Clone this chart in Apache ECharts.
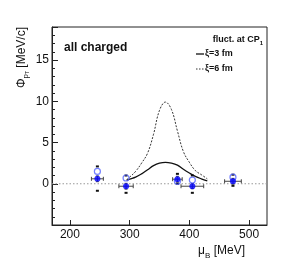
<!DOCTYPE html>
<html>
<head>
<meta charset="utf-8">
<script src="https://cdn.jsdelivr.net/npm/echarts@6/dist/echarts.min.js"></script>
<style>
html,body{margin:0;padding:0;background:#fff;}
#c{width:291px;height:275px;}
</style>
</head>
<body>
<div id="c"></div>
<script>
// ---- data ----
var xTicks = [200, 300, 400, 500];
var yTicks = [0, 5, 10, 15];
var mu = [246, 294, 380, 405, 473];
var filledY = [0.6, -0.3, 0.55, -0.3, 0.3];
var filledErrX = [10, 12, 8, 19, 14];
var filledErrY = [0.35, 0.35, 0.35, 0.3, 0.35];
var openY = [1.5, 0.7, 0.3, 0.45, 0.8];
var sysHi = [2.1, 1.0, 1.2, 1.0, 1.1];
var sysLo = [-0.85, -1.1, 0.0, -1.1, -0.25];
var curveX = [295, 300, 310, 320, 330, 340, 350, 360, 370, 380, 390, 400, 410, 420, 430];
var xi3 = [0.4, 0.55, 0.8, 1.2, 1.7, 2.2, 2.5, 2.6, 2.5, 2.25, 1.75, 1.3, 0.9, 0.6, 0.35];
var xi6 = [0.5, 0.8, 1.5, 2.5, 3.7, 6.0, 8.9, 9.9, 9.0, 6.4, 3.9, 2.6, 1.6, 1.1, 0.6];

var FONT = 'Liberation Sans, Arial, Helvetica, sans-serif';
function pairs(xs, ys){ return xs.map(function(x,i){ return [x, ys[i]]; }); }

var chart = echarts.init(document.getElementById('c'), null, {renderer:'canvas'});

var errData = mu.map(function(x,i){ return [x, filledY[i], filledErrX[i], filledErrY[i], sysHi[i], sysLo[i]]; });

var option = {
  animation: false,
  backgroundColor: '#fff',
  grid: {left: 52, top: 27, right: 24, bottom: 50, show: true, borderColor: '#222', borderWidth: 1, backgroundColor: 'transparent'},
  xAxis: {
    type: 'value', min: 170, max: 530,
    axisLine: {show: true, onZero: false, lineStyle: {color: '#222', width: 1}},
    axisTick: {show: true, inside: true, length: 5, customValues: xTicks, lineStyle: {color: '#222'}},
    axisLabel: {show: true, customValues: xTicks, fontSize: 12, fontFamily: FONT, color: '#111', margin: 4},
    splitLine: {show: false}
  },
  yAxis: {
    type: 'value', min: -5, max: 19, interval: 5,
    axisLine: {show: true, onZero: false, lineStyle: {color: '#222', width: 1}},
    axisTick: {show: true, inside: true, length: 6, lineStyle: {color: '#222'}},
    minorTick: {show: true, splitNumber: 5, length: 3, lineStyle: {color: '#222'}},
    axisLabel: {fontSize: 12, fontFamily: FONT, color: '#111', margin: 3,
      formatter: function(v){ return yTicks.indexOf(v) >= 0 ? String(v) : ''; }},
    splitLine: {show: false}
  },
  series: [
    {
      type: 'line', data: [[170,0],[530,0]], symbol: 'none', silent: true,
      lineStyle: {color: '#999', width: 1, type: [1.5, 2]}, z: 1
    },
    {
      type: 'line', data: pairs(curveX, xi6), smooth: 0.4, symbol: 'none',
      lineStyle: {color: '#333', width: 1, type: [2, 1.5]}, z: 2
    },
    {
      type: 'line', data: pairs(curveX, xi3), smooth: 0.4, symbol: 'none',
      lineStyle: {color: '#111', width: 1.3}, z: 2
    },
    {
      type: 'custom', z: 3,
      data: errData,
      renderItem: function(params, api){
        var x = api.value(0), y = api.value(1), ex = api.value(2), ey = api.value(3);
        var hi = api.value(4), lo = api.value(5);
        var pL = api.coord([x-ex, y]), pR = api.coord([x+ex, y]);
        var pT = api.coord([x, y+ey]), pB = api.coord([x, y-ey]);
        var pH = api.coord([x, hi]), pLo = api.coord([x, lo]);
        var st = {stroke: '#444', lineWidth: 1};
        return {type: 'group', children: [
          {type:'line', shape:{x1:pL[0], y1:pL[1], x2:pR[0], y2:pR[1]}, style: st},
          {type:'line', shape:{x1:pL[0], y1:pL[1]-2, x2:pL[0], y2:pL[1]+2}, style: st},
          {type:'line', shape:{x1:pR[0], y1:pR[1]-2, x2:pR[0], y2:pR[1]+2}, style: st},
          {type:'line', shape:{x1:pT[0], y1:pT[1], x2:pB[0], y2:pB[1]}, style: st},
          {type:'line', shape:{x1:pT[0]-1.5, y1:pT[1], x2:pT[0]+1.5, y2:pT[1]}, style: st},
          {type:'line', shape:{x1:pB[0]-1.5, y1:pB[1], x2:pB[0]+1.5, y2:pB[1]}, style: st},
          {type:'rect', shape:{x:pH[0]-1.5, y:pH[1]-1, width:3, height:2}, style:{fill:'#111'}},
          {type:'rect', shape:{x:pLo[0]-1.5, y:pLo[1]-1, width:3, height:2}, style:{fill:'#111'}}
        ]};
      }
    },
    {
      type: 'scatter', data: pairs(mu, openY), symbol: 'circle', symbolSize: 6, z: 4,
      itemStyle: {color: 'rgba(255,255,255,0)', borderColor: '#5060ff', borderWidth: 1.2}
    },
    {
      type: 'scatter', data: pairs(mu, filledY), symbol: 'circle', symbolSize: 6, z: 5,
      itemStyle: {color: '#0000ff', borderColor: '#0000ff', borderWidth: 0}
    }
  ],
  graphic: [
    {type: 'text', x: 22, y: 27, rotation: Math.PI/2,
      style: {text: '{a|Φ}{s|p}{t|T}{a| [MeV/c]}', align: 'right', verticalAlign: 'middle', fill: '#111',
        rich: {
          a: {fontSize: 12, fontFamily: FONT, fill: '#111', lineHeight: 16, verticalAlign: 'middle'},
          s: {fontSize: 8, fontFamily: FONT, fill: '#111', lineHeight: 16, verticalAlign: 'bottom'},
          t: {fontSize: 5, fontFamily: FONT, fill: '#111', lineHeight: 16, verticalAlign: 'bottom'}
        }}},
    {type: 'text', x: 245, y: 251,
      style: {text: '{a|μ}{s|B}{a| [MeV]}', align: 'right', verticalAlign: 'middle', fill: '#111',
        rich: {
          a: {fontSize: 12, fontFamily: FONT, fill: '#111', lineHeight: 18, verticalAlign: 'middle'},
          s: {fontSize: 8, fontFamily: FONT, fill: '#111', lineHeight: 18, verticalAlign: 'bottom'}
        }}},
    {type: 'text', x: 64, y: 48,
      style: {text: 'all charged', fontSize: 12, fontWeight: 'bold', fontFamily: FONT, fill: '#111', verticalAlign: 'middle'}},
    {type: 'text', x: 263, y: 40,
      style: {text: '{a|fluct. at CP}{s|1}', align: 'right', verticalAlign: 'middle', fill: '#111',
        rich: {
          a: {fontSize: 9, fontWeight: 'bold', fontFamily: FONT, fill: '#111', lineHeight: 12, verticalAlign: 'middle'},
          s: {fontSize: 6, fontWeight: 'bold', fontFamily: FONT, fill: '#111', lineHeight: 12, verticalAlign: 'bottom'}
        }}},
    {type: 'line', shape: {x1: 196, y1: 54, x2: 204, y2: 54}, style: {stroke: '#111', lineWidth: 1.3}},
    {type: 'text', x: 205, y: 54,
      style: {text: 'ξ=3 fm', fontSize: 9, fontWeight: 'bold', fontFamily: FONT, fill: '#111', verticalAlign: 'middle'}},
    {type: 'line', shape: {x1: 196, y1: 69, x2: 204, y2: 69}, style: {stroke: '#333', lineWidth: 1, lineDash: [1.5, 1.5]}},
    {type: 'text', x: 205, y: 69,
      style: {text: 'ξ=6 fm', fontSize: 9, fontWeight: 'bold', fontFamily: FONT, fill: '#111', verticalAlign: 'middle'}}
  ]
};
chart.setOption(option);
</script>
</body>
</html>
